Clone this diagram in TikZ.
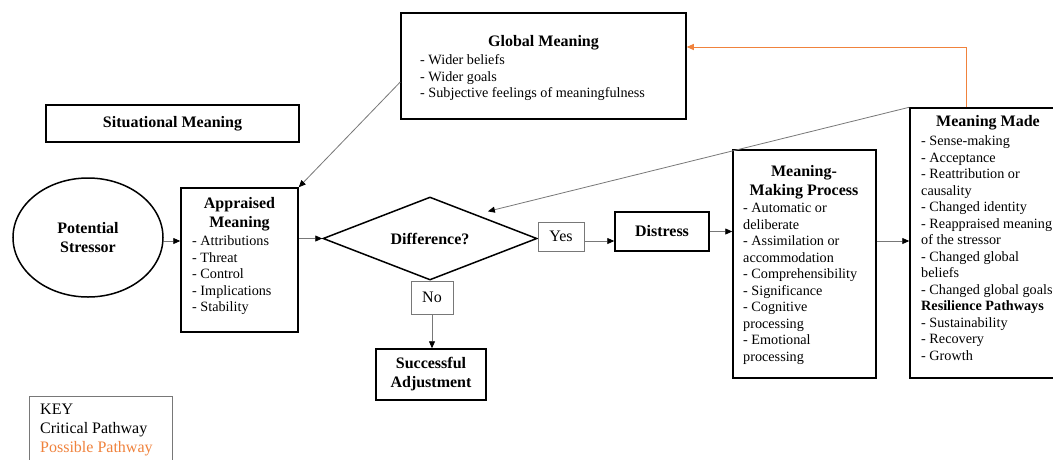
\documentclass[tikz,border=0pt]{standalone}
\usepackage{fontspec}
\setmainfont{Liberation Serif}
\usetikzlibrary{arrows.meta,shapes.geometric}
\definecolor{pathorange}{RGB}{240,130,60}
\definecolor{conngray}{RGB}{120,120,120}
\newcommand{\itemfont}{\fontsize{14.2}{16.5}\selectfont}
\newcommand{\titlefont}{\fontsize{16}{19}\selectfont\bfseries}
\begin{document}
\begin{tikzpicture}[x=1pt,y=-1pt,
  box/.style={draw=black,line width=1.5pt,rectangle,inner sep=0pt},
  lbox/.style={draw=conngray,line width=0.8pt,rectangle,inner sep=0pt},
  title/.style={font=\titlefont,align=center,inner sep=0pt},
  items/.style={font=\itemfont,align=left,inner sep=0pt,anchor=base west},
  conn/.style={draw=conngray,line width=0.8pt,-{Triangle[length=7pt,width=6pt,color=black]}},
  orangeconn/.style={draw=pathorange,line width=0.9pt,-{Triangle[length=7pt,width=6pt,color=pathorange]}}
]
\useasboundingbox (0,0) rectangle (1053,459);
\clip (0,0) rectangle (1053,459);
\fill[white] (0,0) rectangle (1053,459);

% Global Meaning
\node[box,minimum width=285,minimum height=106] (gm) at (543.5,66) {};
\node[title] (gmt) at (543.5,43) {Global Meaning};
\node[items] (gml) at (420,97.5) {- Wider beliefs\\- Wider goals\\- Subjective feelings of meaningfulness};

% Situational Meaning
\node[box,minimum width=253,minimum height=37,font=\titlefont] (sm) at (172.5,123.5) {Situational Meaning};

% Potential Stressor
\node[draw=black,line width=1.5pt,ellipse,minimum width=150,minimum height=119,inner sep=0pt,font=\titlefont,align=center] (ps) at (88,237.5) {Potential\\Stressor};

% Appraised Meaning
\node[box,minimum width=117,minimum height=144] (am) at (239.5,260) {};
\node[title] (amt) at (239.5,214.5) {Appraised\\Meaning};
\node[items] (aml) at (192,311.5) {- Attributions\\- Threat\\- Control\\- Implications\\- Stability};

% Difference diamond
\node[draw=black,line width=1.5pt,diamond,shape aspect=2.58,minimum width=214,minimum height=83,inner sep=0pt,font=\titlefont] (dif) at (430,238.5) {Difference?};

% Yes / No
\node[lbox,minimum width=46,minimum height=29,font=\fontsize{16}{19}\selectfont] (yes) at (561,236.5) {Yes};
\node[lbox,minimum width=42,minimum height=33,font=\fontsize{16}{19}\selectfont] (no) at (432,297.5) {No};

% Distress
\node[box,minimum width=94,minimum height=39,font=\titlefont] (dist) at (662,231.5) {Distress};

% Successful Adjustment
\node[box,minimum width=110,minimum height=51,font=\titlefont,align=center] (sa) at (431,374.5) {Successful\\Adjustment};

% Meaning-Making Process
\node[box,minimum width=143,minimum height=228] (mmp) at (804.5,264) {};
\node[title] (mmpt) at (804,182) {Meaning-\\Making Process};
\node[items] (mmpl) at (743,361) {- Automatic or\\deliberate\\- Assimilation or\\accommodation\\- Comprehensibility\\- Significance\\- Cognitive\\processing\\- Emotional\\processing};

% Meaning Made
\node[box,minimum width=160,minimum height=270] (mm) at (990,243) {};
\node[title] (mmt) at (988,123) {Meaning Made};
\node[items] (mml) at (921,360) {- Sense-making\\- Acceptance\\- Reattribution or\\causality\\- Changed identity\\- Reappraised meaning\\of the stressor\\- Changed global\\beliefs\\- Changed global goals\\\textbf{Resilience Pathways}\\- Sustainability\\- Recovery\\- Growth};

% Key
\node[lbox,minimum width=143,minimum height=74] (key) at (100.5,433) {};
\node[font=\fontsize{16}{19}\selectfont,align=left,inner sep=0pt,anchor=base west] (keyt) at (40,452.5) {KEY\\Critical Pathway\\\textcolor{pathorange}{Possible Pathway}};

% Connectors
\draw[conn] ([yshift=-3.5]ps.east) -- ([yshift=-3.5]ps.east -| am.west);
\draw[conn] (am.east |- dif.west) -- (dif.west);
\draw[conn] ([yshift=-4.5]yes.east) -- ([yshift=-4.5]yes.east -| dist.west);
\draw[conn] (dist.east) -- (dist.east -| mmp.west);
\draw[conn] ([yshift=23]mmp.east) -- ([yshift=23]mmp.east -| mm.west);
\draw[conn] (no.south) -- (no.south |- sa.north);
\draw[conn] ([yshift=-16]gm.west) -- (am.north east);
\draw[conn] (mm.north west) -- ([xshift=4,yshift=6]dif.north east);
\draw[orangeconn] ([xshift=-24]mm.north) |- ([yshift=19]gm.east);
\end{tikzpicture}
\end{document}
